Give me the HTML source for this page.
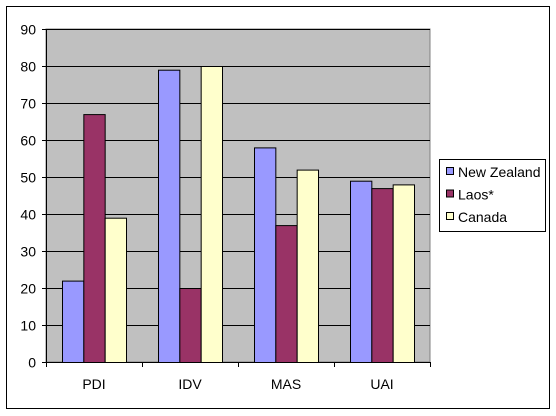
<!DOCTYPE html>
<html><head><meta charset="utf-8"><style>
body{margin:0;background:#fff;}
svg{display:block;font-family:"Liberation Sans",Arial,sans-serif;}
</style></head><body>
<svg id="chart" width="556" height="416">
<rect x="6.5" y="6.5" width="543" height="402" fill="#fff" stroke="#000"/>
<rect x="46" y="29" width="384" height="333" fill="#c0c0c0" stroke="#808080"/>
<g id="grid"></g><g id="bars"></g><g id="axes"></g>
<g>
<rect x="439.5" y="159.5" width="106" height="72" fill="#fff" stroke="#000"/>
<g id="legend"></g>
</g>
</svg>
<script>
const categories=["PDI","IDV","MAS","UAI"];
const seriesNames=["New Zealand","Laos*","Canada"];
const nz=[22,79,58,49];
const laos=[67,20,37,47];
const canada=[39,80,52,48];
const yTicks=[0,10,20,30,40,50,60,70,80,90];
const colors=["#9999ff","#993366","#ffffcc"];
const series=[nz,laos,canada];
const L=46,T=29,B=362,W=384,yMax=90;
const NS="http://www.w3.org/2000/svg";
const y=v=>B-(v/yMax)*(B-T);
const cw=W/categories.length;
const bw=cw*2/9;
function mk(tag,attrs,parent,text){const e=document.createElementNS(NS,tag);for(const k in attrs)e.setAttribute(k,attrs[k]);if(text!=null)e.textContent=text;document.getElementById(parent).appendChild(e);return e;}
yTicks.forEach(t=>{const yy=Math.round(y(t))+0.5;
 if(t>0){const g=mk('line',{x1:L,x2:L+W,y1:yy,y2:yy,stroke:'#000'},'grid');}
 mk('line',{x1:L-4,x2:L,y1:yy,y2:yy,stroke:'#000'},'axes');
 const tx=mk('text',{x:L-10,y:yy+5,'text-anchor':'end','font-size':'14'},'axes',t);
 
 
});
series.forEach((s,si)=>{s.forEach((v,ci)=>{
 const x=L+ci*cw+cw/6+si*bw;
 const r=mk('rect',{x:x+0.5,y:y(v)+0.5,width:bw,height:B-y(v),fill:colors[si],stroke:'#000'},'bars');
 
 
});});
mk('line',{x1:L+0.5,x2:L+0.5,y1:T,y2:B,stroke:'#000'},'axes');
mk('line',{x1:L,x2:L+W,y1:B+0.5,y2:B+0.5,stroke:'#000'},'axes');
categories.forEach((c,i)=>{
 const xx=Math.round(L+i*cw)+0.5;
 mk('line',{x1:xx,x2:xx,y1:B,y2:B+5,stroke:'#000'},'axes');
 const tx=mk('text',{x:L+i*cw+cw/2,y:B+27,'text-anchor':'middle','font-size':'14'},'axes',c);
 
 
});
mk('line',{x1:L+W+0.5,x2:L+W+0.5,y1:B,y2:B+5,stroke:'#000'},'axes');
seriesNames.forEach((n,i)=>{
 const yy=172+i*22.5;
 const r=mk('rect',{x:446.5,y:yy-4.5,width:7,height:7,fill:colors[i],stroke:'#000'},'legend');
 
 
 const t=mk('text',{x:458,y:yy+5,'font-size':'14'},'legend',n);
 
 
});
</script>
</body></html>
